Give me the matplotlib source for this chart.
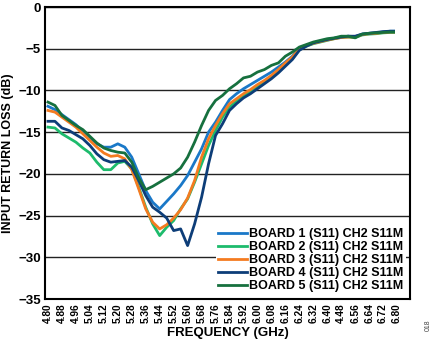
import matplotlib
matplotlib.use("Agg")
import matplotlib.pyplot as plt

plt.rcParams['font.family'] = ['Liberation Sans', 'DejaVu Sans']

freq = [4.80, 4.84, 4.88, 4.92, 4.96, 5.00, 5.04, 5.08, 5.12, 5.16,
        5.20, 5.24, 5.28, 5.32, 5.36, 5.40, 5.44, 5.48, 5.52, 5.56,
        5.60, 5.64, 5.68, 5.72, 5.76, 5.80, 5.84, 5.88, 5.92, 5.96,
        6.00, 6.04, 6.08, 6.12, 6.16, 6.20, 6.24, 6.28, 6.32, 6.36,
        6.40, 6.44, 6.48, 6.52, 6.56, 6.60, 6.64, 6.68, 6.72, 6.76, 6.78]

board1 = [-11.9, -12.3, -12.9, -13.5, -14.1, -14.9, -15.7, -16.4, -16.8, -16.8,
          -16.4, -16.8, -18.0, -20.0, -22.0, -23.4, -24.2, -23.3, -22.4, -21.4,
          -20.2, -18.6, -17.0, -15.0, -13.8, -12.4, -11.1, -10.4, -9.8, -9.3,
          -8.8, -8.3, -7.8, -7.2, -6.6, -5.9,
          -5.0, -4.6, -4.3, -4.1, -3.9, -3.75, -3.6, -3.5, -3.55, -3.25,
          -3.15, -3.1, -3.0, -2.9, -2.9]
board2 = [-14.4, -14.5, -15.2, -15.7, -16.2, -16.9, -17.5, -18.6, -19.5, -19.5,
          -18.7, -18.5, -19.4, -21.6, -24.0, -26.0, -27.4, -26.4, -25.6, -24.2,
          -23.0, -21.0, -18.8, -16.6, -14.8, -13.2, -12.0, -11.3, -10.7, -10.1,
          -9.5, -9.0, -8.4, -7.7, -6.9, -6.2,
          -5.1, -4.7, -4.4, -4.2, -4.0, -3.8, -3.65, -3.6, -3.65, -3.35,
          -3.25, -3.2, -3.1, -3.05, -3.05]
board3 = [-12.4, -12.6, -13.2, -13.8, -14.4, -15.2, -16.0, -16.8, -17.5, -17.9,
          -17.8, -18.2, -19.5, -21.8, -24.2, -25.8, -26.6, -26.1, -25.3, -24.3,
          -22.9, -20.8, -18.0, -15.8, -14.2, -12.8, -11.6, -11.0, -10.4, -9.9,
          -9.3, -8.8, -8.2, -7.5, -6.7, -6.0,
          -5.0, -4.6, -4.35, -4.15, -3.95, -3.8, -3.65, -3.6, -3.6, -3.3,
          -3.2, -3.15, -3.05, -3.0, -3.0]
board4 = [-13.7, -13.7, -14.5, -14.8, -15.3, -15.8, -16.6, -17.6, -18.3, -18.6,
          -18.5, -18.4, -19.2, -20.8, -22.6, -24.0, -24.6, -25.3, -26.8, -26.6,
          -28.6, -26.0, -22.8, -18.8, -15.4, -14.0, -12.4, -11.6, -10.9, -10.4,
          -9.8, -9.2, -8.6, -7.9, -7.1, -6.3,
          -5.2, -4.7, -4.3, -4.1, -3.9, -3.75, -3.6, -3.5, -3.5, -3.25,
          -3.15, -3.05, -2.95, -2.9, -2.9]
board5 = [-11.4, -11.8, -13.0, -13.6, -14.2, -14.7, -15.5, -16.3, -16.9, -17.2,
          -17.4, -17.5, -18.6, -20.5, -21.9, -21.5, -21.0, -20.5, -20.0, -19.3,
          -18.0, -16.2, -14.2, -12.4, -11.2, -10.6, -9.8, -9.2, -8.5, -8.3,
          -7.8, -7.5, -7.0, -6.7, -5.9, -5.4,
          -4.8, -4.5, -4.2, -4.0, -3.8, -3.7, -3.5, -3.5, -3.7, -3.25,
          -3.15, -3.1, -3.05, -3.0, -3.0]

series = [board1, board2, board3, board4, board5]
labels = ["BOARD 1 (S11) CH2 S11M", "BOARD 2 (S11) CH2 S11M",
          "BOARD 3 (S11) CH2 S11M", "BOARD 4 (S11) CH2 S11M",
          "BOARD 5 (S11) CH2 S11M"]
colors = ["#1a78c8", "#1dbb6c", "#f47b20", "#0d3d78", "#16703e"]

xticks = [4.80 + 0.08 * i for i in range(26)]
xticklabels = ["%.2f" % v for v in xticks]
xticklabels[21] = "4.48"
yticks = [0, -5, -10, -15, -20, -25, -30, -35]
yticklabels = ["0" if v == 0 else "\u2212%d" % (-v) for v in yticks]

fig = plt.figure(figsize=(4.35, 3.45), dpi=100)
ax = fig.add_axes([45 / 435, 1 - 299 / 345, 365 / 435, 292 / 345])

for y, lab, c in zip(series, labels, colors):
    ax.plot(freq, y, color=c, lw=2.0, label=lab, solid_joinstyle='round')

ax.set_xlim(4.783, 6.874)
ax.set_ylim(-35, 0)
ax.set_yticks(yticks)
ax.set_yticklabels(yticklabels, fontsize=9.5, fontweight='bold')
ax.set_xticks(xticks)
ax.set_xticklabels(xticklabels, rotation=90, fontsize=7.3, fontweight='bold')
ax.tick_params(length=0, pad=3)
ax.grid(axis='y', color='#222222', lw=1.0)
ax.set_axisbelow(True)
for s in ax.spines.values():
    s.set_linewidth(1.5)
    s.set_color('black')

ax.set_xlabel("FREQUENCY (GHz)", fontsize=9.5, fontweight='bold', labelpad=3)
ax.set_ylabel("INPUT RETURN LOSS (dB)", fontsize=9, fontweight='bold', labelpad=3)

leg = ax.legend(loc='lower right', bbox_to_anchor=(0.99, 0.015), frameon=True,
                prop={'size': 9, 'weight': 'bold'}, handlelength=2.3,
                handletextpad=0.2, labelspacing=0.08, borderpad=0.2,
                borderaxespad=0.0)
leg.get_frame().set_edgecolor('none')
leg.get_frame().set_facecolor('white')
leg.get_frame().set_alpha(1.0)

fig.text(428 / 435, 1 - 325 / 345, "018", rotation=90, fontsize=5,
         color='#444444', ha='center', va='center')

fig.savefig("out.png", dpi=100)
